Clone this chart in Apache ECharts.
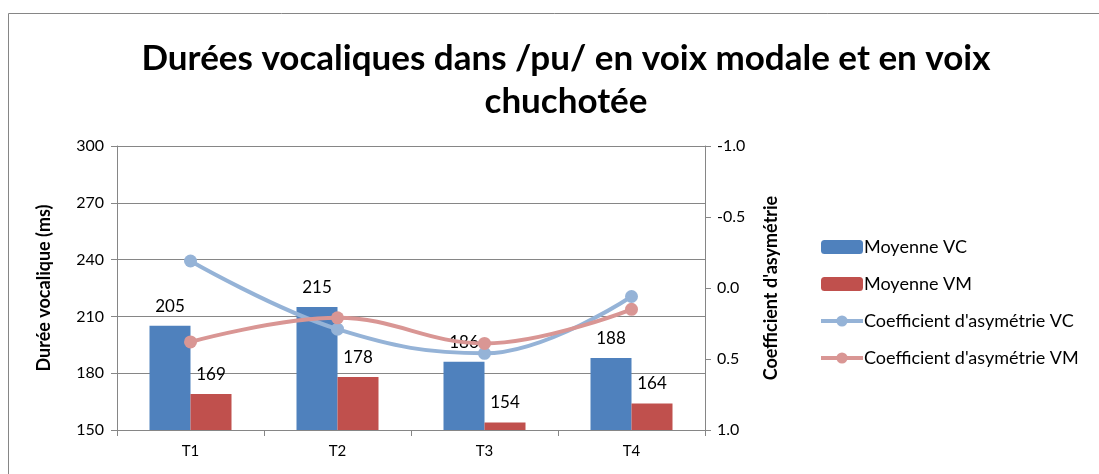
<!DOCTYPE html>
<html>
<head>
<meta charset="utf-8">
<script src="https://cdn.jsdelivr.net/npm/echarts@6/dist/echarts.min.js"></script>
<style>
  html, body { margin: 0; padding: 0; background: #fff; }
  #chart { width: 1099px; height: 474px; }
</style>
</head>
<body>
<div id="chart"></div>
<script>
  // données
  var categories = ['T1', 'T2', 'T3', 'T4'];
  var moyenneVC = [205, 215, 186, 188];
  var moyenneVM = [169, 178, 154, 164];
  var coefVC = [-0.19, 0.29, 0.46, 0.06];
  var coefVM = [0.38, 0.21, 0.39, 0.15];

  var font = 'Lato, "Open Sans", sans-serif';
  var myChart = echarts.init(document.getElementById('chart'));
  var option = {
    textStyle: { fontFamily: font },
    animation: false,
    graphic: [{
      type: 'rect',
      shape: { x: 8.5, y: 13.5, width: 1200, height: 600 },
      style: { fill: 'none', stroke: '#868686', lineWidth: 1 },
      silent: true
    }],
    title: {
      text: 'Durées vocaliques dans /pu/ en voix modale et en voix\nchuchotée',
      left: 561,
      textAlign: 'center',
      top: 32,
      textStyle: { fontFamily: font, fontSize: 35, fontWeight: 'bold', color: '#000', lineHeight: 43 }
    },
    legend: {
      orient: 'vertical',
      left: 814,
      top: 233,
      itemGap: 19,
      itemWidth: 42,
      itemHeight: 14,
      lineStyle: { width: 4 },
      textStyle: { fontFamily: font, fontSize: 18, color: '#000', padding: [0, 0, 0, -4] },
      data: ['Moyenne VC', 'Moyenne VM',
        { name: "Coefficient d'asymétrie VC", itemStyle: { color: '#95B3D7' } },
        { name: "Coefficient d'asymétrie VM", itemStyle: { color: '#D99694' } }]
    },
    grid: { left: 117, right: 394, top: 146, bottom: 44 },
    xAxis: {
      type: 'category',
      data: categories,
      axisLine: { onZero: false, lineStyle: { color: '#868686' } },
      axisTick: { show: true, length: 6, lineStyle: { color: '#868686' } },
      axisLabel: { color: '#000', fontSize: 15, margin: 14, fontFamily: font }
    },
    yAxis: [{
      type: 'value',
      min: 150, max: 300, interval: 30,
      name: 'Durée vocalique (ms)',
      nameLocation: 'middle',
      nameRotate: 90,
      nameGap: 64,
      nameTextStyle: { fontSize: 18, fontWeight: 'bold', color: '#000', fontFamily: font },
      axisLine: { show: true, lineStyle: { color: '#868686' } },
      axisTick: { show: true, length: 6, lineStyle: { color: '#868686' } },
      axisLabel: { color: '#000', fontSize: 16, margin: 13, fontFamily: font },
      splitLine: { lineStyle: { color: '#868686' } }
    }, {
      type: 'value',
      min: -1, max: 1, interval: 0.5,
      inverse: true,
      name: "Coefficient d'asymétrie",
      nameLocation: 'middle',
      nameRotate: 90,
      nameGap: 57,
      nameTextStyle: { fontSize: 18, fontWeight: 'bold', color: '#000', fontFamily: font },
      axisLine: { show: true, lineStyle: { color: '#868686' } },
      axisTick: { show: true, length: 6, lineStyle: { color: '#868686' } },
      axisLabel: { color: '#000', fontSize: 16, margin: 12, fontFamily: font,
        formatter: function (v) { return v.toFixed(1); } },
      splitLine: { show: false }
    }],
    series: [{
      name: 'Moyenne VC',
      type: 'bar',
      data: moyenneVC,
      barWidth: 41,
      barGap: '0%',
      itemStyle: { color: '#4F81BD' },
      label: { show: true, position: 'top', distance: 11, color: '#000', fontSize: 17, fontFamily: font }
    }, {
      name: 'Moyenne VM',
      type: 'bar',
      data: moyenneVM,
      barWidth: 41,
      itemStyle: { color: '#C0504D' },
      label: { show: true, position: 'top', distance: 11, color: '#000', fontSize: 17, fontFamily: font }
    }, {
      name: "Coefficient d'asymétrie VC",
      type: 'line',
      yAxisIndex: 1,
      data: coefVC,
      smooth: 0.4,
      symbol: 'circle',
      symbolSize: 13,
      lineStyle: { color: '#95B3D7', width: 4 },
      itemStyle: { color: '#95B3D7' },
      z: 5
    }, {
      name: "Coefficient d'asymétrie VM",
      type: 'line',
      yAxisIndex: 1,
      data: coefVM,
      smooth: 0.4,
      symbol: 'circle',
      symbolSize: 13,
      lineStyle: { color: '#D99694', width: 4 },
      itemStyle: { color: '#D99694' },
      z: 6
    }]
  };
  myChart.setOption(option);
</script>
</body>
</html>
